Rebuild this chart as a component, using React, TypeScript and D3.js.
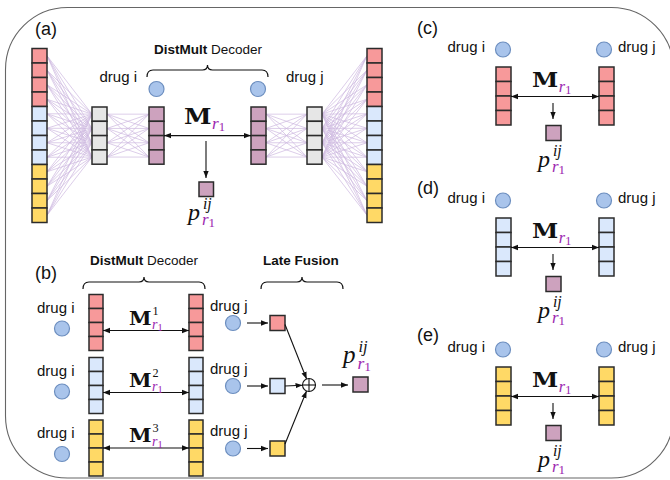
import React from "react";
import * as d3 from "d3";

const COLORS: Record<string, string> = {
  red: "#F7999A",
  blue: "#DAE8FC",
  yellow: "#FFD966",
  gray: "#E6E6E6",
  purple: "#CDA2BE",
};
const DRUG_FILL = "#A9C4EB";
const DRUG_STROKE = "#6C8EBF";
const SUB_COLOR = "#9C27B0";
const LINK_COLOR = "#CDB8E0";
const CELL_STROKE = "#2b2b2b";
const SANS = "'Liberation Sans', Arial, Helvetica, sans-serif";
const SERIF = "'Liberation Serif', 'Times New Roman', serif";
const BOLD_SERIF = "'DejaVu Serif', serif";

// ---- data ----
const inputCells = ["red", "red", "red", "red", "blue", "blue", "blue", "blue", "yellow", "yellow", "yellow", "yellow"];
const hiddenDim = 4;
const panelLabels = ["(a)", "(b)", "(c)", "(d)", "(e)"];
const drugLabels = ["drug i", "drug j"];
const decoderTitleBold = "DistMult";
const decoderTitle = " Decoder";
const fusionTitle = "Late Fusion";
const fusionRows = ["red", "blue", "yellow"];
const fusionSup = ["1", "2", "3"];
const sideFills = ["red", "blue", "yellow"];

// ---- layout helpers ----
const cellsY = (y0: number, n: number, h: number) => d3.range(n).map((k) => y0 + k * h);

function Stack({ x, y, w, h, fills }: { x: number; y: number; w: number; h: number; fills: string[] }) {
  return (
    <g>
      {fills.map((f, k) => (
        <rect key={k} x={x} y={y + k * h} width={w} height={h} fill={COLORS[f]} stroke={CELL_STROKE} strokeWidth={1.5} />
      ))}
    </g>
  );
}

function Drug({ cx, cy }: { cx: number; cy: number }) {
  return <circle cx={cx} cy={cy} r={7.5} fill={DRUG_FILL} stroke={DRUG_STROKE} strokeWidth={1.2} />;
}

function Brace({ x1, x2, y }: { x1: number; x2: number; y: number }) {
  const xm = (x1 + x2) / 2;
  const d = `M${x1},${y + 7} Q${x1},${y} ${x1 + 6},${y} L${xm - 5},${y} Q${xm},${y} ${xm},${y - 5} Q${xm},${y} ${xm + 5},${y} L${x2 - 6},${y} Q${x2},${y} ${x2},${y + 7}`;
  return <path d={d} fill="none" stroke="#111" strokeWidth={1.2} />;
}

function Arrow({ x1, y1, x2, y2, both }: { x1: number; y1: number; x2: number; y2: number; both?: boolean }) {
  return (
    <line x1={x1} y1={y1} x2={x2} y2={y2} stroke="#111" strokeWidth={1.1} markerEnd="url(#ah)" markerStart={both ? "url(#ah)" : undefined} />
  );
}

function MLabel({ x, y, size, sup }: { x: number; y: number; size: number; sup?: string }) {
  const wM = size * 1.25;
  return (
    <g>
      <text x={x} y={y} fontFamily={BOLD_SERIF} fontWeight="bold" fontSize={size} fill="#111" textLength={wM} lengthAdjust="spacingAndGlyphs">
        M
      </text>
      {sup && (
        <text x={x + wM + 1} y={y - size * 0.55} fontFamily={SERIF} fontSize={size * 0.68} fill="#111">
          {sup}
        </text>
      )}
      <text x={x + wM + 0.5} y={y + size * 0.24} fontFamily={SERIF} fill={SUB_COLOR}>
        <tspan fontStyle="italic" fontSize={size * 0.78}>r</tspan>
        <tspan fontSize={size * 0.58} dy={size * 0.1}>1</tspan>
      </text>
    </g>
  );
}

function PLabel({ x, y, size }: { x: number; y: number; size: number }) {
  const dx = size * 0.62;
  return (
    <g>
      <text x={x} y={y} fontFamily={SERIF} fontStyle="italic" fontSize={size} fill="#111">p</text>
      <text x={x + dx} y={y - size * 0.46} fontFamily={SERIF} fontStyle="italic" fontSize={size * 0.66} fill="#111">ij</text>
      <text x={x + dx - 1} y={y + size * 0.22} fontFamily={SERIF} fill={SUB_COLOR}>
        <tspan fontStyle="italic" fontSize={size * 0.7}>r</tspan>
        <tspan fontSize={size * 0.54} dy={size * 0.08}>1</tspan>
      </text>
    </g>
  );
}

function PanelLabel({ x, y, t }: { x: number; y: number; t: string }) {
  return (
    <text x={x} y={y} fontFamily={SANS} fontSize={18} fill="#111">
      {t}
    </text>
  );
}

function DrugText({ x, y, t, anchor }: { x: number; y: number; t: string; anchor: "start" | "end" }) {
  return (
    <text x={x} y={y} fontFamily={SANS} fontSize={15} fill="#111" textAnchor={anchor}>
      {t}
    </text>
  );
}

function Title({ x, y, bold, rest }: { x: number; y: number; bold: string; rest?: string }) {
  return (
    <text x={x} y={y} fontFamily={SANS} fontSize={13.5} fill="#111" textAnchor="middle">
      <tspan fontWeight="bold">{bold}</tspan>
      {rest && <tspan>{rest}</tspan>}
    </text>
  );
}

function PanelA() {
  const W = 15;
  const tallH = 14.5;
  const h = 14.3;
  const tallLX = 32, tallRX = 367, tallY = 48.5;
  const grayLX = 92, purpLX = 149, purpRX = 251, grayRX = 307, smallY = 107;
  const tallC = cellsY(tallY, inputCells.length, tallH).map((v) => v + tallH / 2);
  const smallC = cellsY(smallY, hiddenDim, h).map((v) => v + h / 2);
  const gray = d3.range(hiddenDim).map(() => "gray");
  const purp = d3.range(hiddenDim).map(() => "purple");
  const links: [number, number, number, number][] = [];
  d3.cross(tallC, smallC).forEach(([a, b]) => {
    links.push([tallLX + W, a, grayLX, b]);
    links.push([grayRX + W, b, tallRX, a]);
  });
  d3.cross(smallC, smallC).forEach(([a, b]) => {
    links.push([grayLX + W, a, purpLX, b]);
    links.push([purpRX + W, a, grayRX, b]);
  });
  const arrowY = smallY + 2 * h;
  return (
    <g>
      <PanelLabel x={35} y={35} t={panelLabels[0]} />
      {links.map((l, i) => (
        <line key={i} x1={l[0]} y1={l[1]} x2={l[2]} y2={l[3]} stroke={LINK_COLOR} strokeWidth={0.7} />
      ))}
      <Stack x={tallLX} y={tallY} w={W} h={tallH} fills={inputCells} />
      <Stack x={tallRX} y={tallY} w={W} h={tallH} fills={inputCells} />
      <Stack x={grayLX} y={smallY} w={W} h={h} fills={gray} />
      <Stack x={grayRX} y={smallY} w={W} h={h} fills={gray} />
      <Stack x={purpLX} y={smallY} w={W} h={h} fills={purp} />
      <Stack x={purpRX} y={smallY} w={W} h={h} fills={purp} />
      <Drug cx={156.5} cy={89} />
      <Drug cx={258} cy={89} />
      <DrugText x={137} y={82} t={drugLabels[0]} anchor="end" />
      <DrugText x={286} y={82} t={drugLabels[1]} anchor="start" />
      <Brace x1={147} x2={268} y={70} />
      <Title x={208} y={54} bold={decoderTitleBold} rest={decoderTitle} />
      <Arrow x1={purpLX + W} y1={arrowY} x2={purpRX} y2={arrowY} both />
      <MLabel x={184} y={124} size={22} />
      <Arrow x1={206} y1={141} x2={206} y2={178} />
      <rect x={199} y={182} width={14.5} height={14.5} fill={COLORS.purple} stroke={CELL_STROKE} strokeWidth={1.5} />
      <PLabel x={188} y={220} size={24} />
    </g>
  );
}

function PanelB() {
  const W = 14, h = 14;
  const rowY = [294.5, 357.5, 420];
  const arrowOff = [36, 35, 28];
  const oplus = { cx: 309, cy: 385, r: 6.5 };
  const sqX = 270, sqS = 15;
  return (
    <g>
      <PanelLabel x={35} y={279} t={panelLabels[1]} />
      <Title x={144} y={265} bold={decoderTitleBold} rest={decoderTitle} />
      <Brace x1={83} x2={205} y={282} />
      <Title x={301} y={265} bold={fusionTitle} />
      <Brace x1={261} x2={343} y={282} />
      {fusionRows.map((f, k) => {
        const y0 = rowY[k];
        const fills = d3.range(4).map(() => f);
        const ay = y0 + arrowOff[k];
        const jy = y0 + 28.5;
        const sqY = y0 + 21;
        const sx = sqX + sqS;
        const sy = k === 0 ? sqY + 9 : k === 1 ? jy : sqY + 3;
        const dxv = oplus.cx - sx, dyv = oplus.cy - sy;
        const len = Math.hypot(dxv, dyv);
        const ex = oplus.cx - (dxv / len) * oplus.r;
        const ey = oplus.cy - (dyv / len) * oplus.r;
        return (
          <g key={k}>
            <DrugText x={37} y={y0 + 18} t={drugLabels[0]} anchor="start" />
            <Drug cx={62} cy={y0 + 34} />
            <Stack x={89} y={y0} w={W} h={h} fills={fills} />
            <Stack x={189} y={y0} w={W} h={h} fills={fills} />
            <Arrow x1={89 + W} y1={ay} x2={189} y2={ay} both />
            <MLabel x={129} y={ay - 6} size={18} sup={fusionSup[k]} />
            <DrugText x={210} y={y0 + 16} t={drugLabels[1]} anchor="start" />
            <Drug cx={233} cy={jy} />
            <Arrow x1={247} y1={jy} x2={268} y2={jy} />
            <rect x={sqX} y={sqY} width={sqS} height={sqS} fill={COLORS[f]} stroke={CELL_STROKE} strokeWidth={1.5} />
            <Arrow x1={sx} y1={sy} x2={ex} y2={ey} />
          </g>
        );
      })}
      <circle cx={oplus.cx} cy={oplus.cy} r={oplus.r} fill="#fff" stroke="#111" strokeWidth={1.1} />
      <line x1={oplus.cx - oplus.r} x2={oplus.cx + oplus.r} y1={oplus.cy} y2={oplus.cy} stroke="#111" strokeWidth={1.1} />
      <line x1={oplus.cx} x2={oplus.cx} y1={oplus.cy - oplus.r} y2={oplus.cy + oplus.r} stroke="#111" strokeWidth={1.1} />
      <Arrow x1={322} y1={385} x2={348} y2={385} />
      <rect x={353} y={377} width={15} height={15} fill={COLORS.purple} stroke={CELL_STROKE} strokeWidth={1.5} />
      <PLabel x={343} y={363} size={25} />
    </g>
  );
}

function SidePanel({ k }: { k: number }) {
  const T = [67, 218, 367][k];
  const labelY = [34, 194, 341][k];
  const W = 15, h = 14.5;
  const fills = d3.range(4).map(() => sideFills[k]);
  const ay = T + 29.5;
  return (
    <g>
      <PanelLabel x={417} y={labelY} t={panelLabels[2 + k]} />
      <DrugText x={485} y={T - 15} t={drugLabels[0]} anchor="end" />
      <DrugText x={618} y={T - 15} t={drugLabels[1]} anchor="start" />
      <Drug cx={503} cy={T - 17.5} />
      <Drug cx={604} cy={T - 17.5} />
      <Stack x={496} y={T} w={W} h={h} fills={fills} />
      <Stack x={599} y={T} w={W} h={h} fills={fills} />
      <Arrow x1={496 + W} y1={ay} x2={599} y2={ay} both />
      <MLabel x={532} y={T + 20} size={21} />
      <Arrow x1={553} y1={T + 36} x2={553} y2={T + 52} />
      <rect x={546} y={T + 58.5} width={15} height={15} fill={COLORS.purple} stroke={CELL_STROKE} strokeWidth={1.5} />
      <PLabel x={538} y={T + 100} size={24} />
    </g>
  );
}

export default function App() {
  return (
    <svg width={670} height={480} style={{ position: "absolute", left: 0, top: 0, background: "#fff" }}>
      <defs>
        <marker id="ah" viewBox="0 0 10 10" refX={10} refY={5} markerWidth={7} markerHeight={7} markerUnits="userSpaceOnUse" orient="auto-start-reverse">
          <path d="M0,1.2 L10,5 L0,8.8 z" fill="#111" />
        </marker>
      </defs>
      <rect x={5.5} y={7.5} width={668} height={470.5} rx={62} ry={62} fill="none" stroke="#666" strokeWidth={1.1} />
      <PanelA />
      <PanelB />
      {[0, 1, 2].map((k) => (
        <SidePanel key={k} k={k} />
      ))}
    </svg>
  );
}
